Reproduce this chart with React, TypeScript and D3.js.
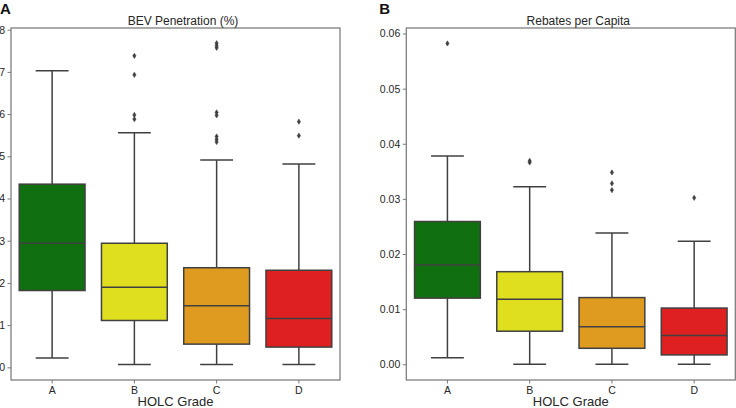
import { useEffect, useRef } from 'react';
import * as d3 from 'd3';

const grades = ['A', 'B', 'C', 'D'];
const gradeColors = ['#107010', '#dfdf20', '#df9b20', '#df2020'];

// BEV penetration (%) box stats per grade
const bevLow = [0.22, 0.07, 0.07, 0.07];
const bevQ1 = [1.82, 1.11, 0.55, 0.48];
const bevMedian = [2.94, 1.9, 1.46, 1.16];
const bevQ3 = [4.34, 2.94, 2.36, 2.3];
const bevHigh = [7.03, 5.56, 4.91, 4.82];
const bevOutliers = [[], [7.38, 6.93, 5.98, 5.88], [7.68, 7.62, 7.57, 6.04, 5.97, 5.47, 5.4, 5.34], [5.82, 5.49]];
const bevTicks = [0, 1, 2, 3, 4, 5, 6, 7, 8];

// Rebates per capita box stats per grade
const rebLow = [0.0012, 0, 0, 0];
const rebQ1 = [0.012, 0.006, 0.0029, 0.0017];
const rebMedian = [0.018, 0.0118, 0.0068, 0.0052];
const rebQ3 = [0.0259, 0.0168, 0.0121, 0.0102];
const rebHigh = [0.0378, 0.0322, 0.0238, 0.0223];
const rebOutliers = [[0.0582], [0.0369, 0.0366], [0.0348, 0.0328, 0.0316], [0.0302]];
const rebTicks = [0, 0.01, 0.02, 0.03, 0.04, 0.05, 0.06];

interface PanelSpec {
  letter: string;
  title: string;
  left: number;
  right: number;
  domain: [number, number];
  low: number[];
  q1: number[];
  median: number[];
  q3: number[];
  high: number[];
  outliers: number[][];
  ticks: number[];
  fmt: (v: number) => string;
}

const FONT = 'Liberation Sans, Arial, Helvetica, sans-serif';
const TOP = 28;
const BOTTOM = 380;
const LINE = '#404040';
const SPINE = '#7a7a7a';

function drawPanel(svg: d3.Selection<SVGSVGElement, unknown, null, undefined>, p: PanelSpec) {
  const x = d3.scaleBand<string>().domain(grades).range([p.left, p.right]).padding(0);
  const y = d3.scaleLinear().domain(p.domain).range([BOTTOM, TOP]);
  const g = svg.append('g');

  // frame
  g.append('rect')
    .attr('x', p.left)
    .attr('y', TOP)
    .attr('width', p.right - p.left)
    .attr('height', BOTTOM - TOP)
    .attr('fill', 'none')
    .attr('stroke', SPINE)
    .attr('stroke-width', 1.25);

  // y axis
  const yAxis = g.append('g')
    .attr('transform', `translate(${p.left},0)`)
    .call(d3.axisLeft(y).tickValues(p.ticks).tickFormat(d => p.fmt(d as number)).tickSize(3.5).tickPadding(2.5));
  yAxis.select('.domain').remove();
  yAxis.selectAll('line').attr('stroke', SPINE);
  yAxis.selectAll('text').attr('font-family', FONT).attr('font-size', 10.5).attr('fill', '#262626');

  // x axis
  const xAxis = g.append('g')
    .attr('transform', `translate(0,${BOTTOM})`)
    .call(d3.axisBottom(x).tickSize(3.5).tickPadding(3));
  xAxis.select('.domain').remove();
  xAxis.selectAll('line').attr('stroke', SPINE);
  xAxis.selectAll('text').attr('font-family', FONT).attr('font-size', 10.5).attr('fill', '#262626');

  const mid = (p.left + p.right) / 2;
  g.append('text')
    .attr('x', mid)
    .attr('y', 406)
    .attr('text-anchor', 'middle')
    .attr('font-family', FONT)
    .attr('font-size', 13)
    .attr('fill', '#262626')
    .text('HOLC Grade');

  // title sits a little right of centre in the source figure
  g.append('text')
    .attr('x', mid + 7.5)
    .attr('y', 24.5)
    .attr('text-anchor', 'middle')
    .attr('font-family', FONT)
    .attr('font-size', 12)
    .attr('fill', '#262626')
    .text(p.title);

  const bw = x.bandwidth() * 0.8;
  const cap = bw / 2;

  grades.forEach((gr, i) => {
    const cx = (x(gr) as number) + x.bandwidth() / 2;
    const box = g.append('g');
    // whiskers
    box.append('line')
      .attr('x1', cx).attr('x2', cx)
      .attr('y1', y(p.q3[i])).attr('y2', y(p.high[i]))
      .attr('stroke', LINE).attr('stroke-width', 1.5);
    box.append('line')
      .attr('x1', cx).attr('x2', cx)
      .attr('y1', y(p.q1[i])).attr('y2', y(p.low[i]))
      .attr('stroke', LINE).attr('stroke-width', 1.5);
    [p.high[i], p.low[i]].forEach(v => {
      box.append('line')
        .attr('x1', cx - cap / 2).attr('x2', cx + cap / 2)
        .attr('y1', y(v)).attr('y2', y(v))
        .attr('stroke', LINE).attr('stroke-width', 1.5);
    });
    box.append('rect')
      .attr('x', cx - bw / 2)
      .attr('y', y(p.q3[i]))
      .attr('width', bw)
      .attr('height', y(p.q1[i]) - y(p.q3[i]))
      .attr('fill', gradeColors[i])
      .attr('stroke', LINE)
      .attr('stroke-width', 1.5);
    box.append('line')
      .attr('x1', cx - bw / 2).attr('x2', cx + bw / 2)
      .attr('y1', y(p.median[i])).attr('y2', y(p.median[i]))
      .attr('stroke', LINE).attr('stroke-width', 1.5);

    box.selectAll('path.flier')
      .data(p.outliers[i])
      .join('path')
      .attr('class', 'flier')
      .attr('d', 'M0,-2.6L1.6,0L0,2.6L-1.6,0Z')
      .attr('transform', d => `translate(${cx},${y(d)})`)
      .attr('fill', LINE)
      .attr('stroke', LINE)
      .attr('stroke-width', 0.6);
  });

  g.append('text')
    .attr('x', p.left - 11 + (p.letter === 'B' ? -16 : 0))
    .attr('y', 14)
    .attr('font-family', FONT)
    .attr('font-weight', 'bold')
    .attr('font-size', 15)
    .attr('fill', '#111')
    .text(p.letter);
}

export default function App() {
  const svgRef = useRef<SVGSVGElement>(null);

  useEffect(() => {
    if (!svgRef.current) return;
    const svg = d3.select(svgRef.current);
    svg.selectAll('*').remove();

    drawPanel(svg, {
      letter: 'A',
      title: 'BEV Penetration (%)',
      left: 11,
      right: 340,
      domain: [-0.3, 8.04],
      low: bevLow, q1: bevQ1, median: bevMedian, q3: bevQ3, high: bevHigh,
      outliers: bevOutliers,
      ticks: bevTicks,
      fmt: v => d3.format('d')(v),
    });

    drawPanel(svg, {
      letter: 'B',
      title: 'Rebates per Capita',
      left: 406.3,
      right: 735.3,
      domain: [-0.00285, 0.061],
      low: rebLow, q1: rebQ1, median: rebMedian, q3: rebQ3, high: rebHigh,
      outliers: rebOutliers,
      ticks: rebTicks,
      fmt: v => d3.format('.2f')(v),
    });
  }, []);

  return (
    <svg
      ref={svgRef}
      width={736}
      height={408}
      style={{ position: 'absolute', left: 0, top: 0, background: '#fff' }}
    />
  );
}
